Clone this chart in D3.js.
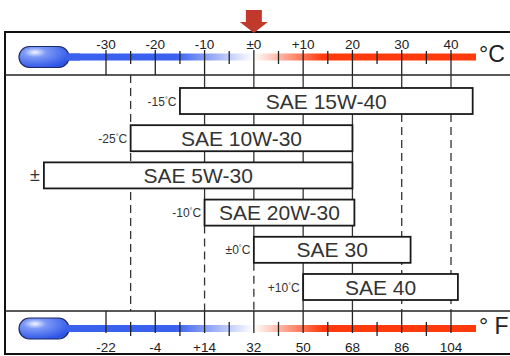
<!DOCTYPE html>
<html>
<head>
<meta charset="utf-8">
<script src="https://cdn.jsdelivr.net/npm/d3@7"></script>
<style>
  body { margin: 0; background: #fff; }
  text { font-family: "Liberation Sans", Arial, sans-serif; }
</style>
</head>
<body>
<div id="chart"></div>
<script>
// oil grades and their usable temperature range in °C
const oils = ["SAE 15W-40", "SAE 10W-30", "SAE 5W-30", "SAE 20W-30", "SAE 30", "SAE 40"];
const lowC = [-15, -25, -42.6, -10, 0, 10];
const highC = [44.4, 20, 20, 20.4, 31.8, 41.4];
const lowLabels = ["-15", "-25", "±", "-10", "±0", "+10"];
const lowHasUnit = [true, true, false, true, true, true];

// scale ticks
const celsiusTicks = [-30, -20, -10, 0, 10, 20, 30, 40];
const celsiusLabels = ["-30", "-20", "-10", "±0", "+10", "20", "30", "40"];
const fahrenheitLabels = ["-22", "-4", "+14", "32", "50", "68", "86", "104"];
const minorTicks = [-25, -15, -5, 5, 15, 25, 35];

// guide lines: solid down to the grade listed, dashed below it
const guides = [-25, -10, 0, 10, 20, 30, 40];
const guideSolidTo = [null, "SAE 20W-30", "SAE 30", "all", "all", "SAE 15W-40", "SAE 15W-40"];

(function () {
  const width = 510, height = 356;
  const frameTop = 32, frameBottom = 354, frameLeft = 5;
  const topSep = 75, bottomSep = 311;

  const svg = d3.select("#chart")
    .append("svg")
    .attr("width", width)
    .attr("height", height);

  const x = d3.scaleLinear().domain([-30, 40]).range([106, 451]);
  const y = d3.scaleBand().domain(oils).range([82.4, 305.6]).paddingInner(0.3).paddingOuter(0.15);

  const defs = svg.append("defs");
  const tube = defs.append("linearGradient")
    .attr("id", "tube")
    .attr("gradientUnits", "userSpaceOnUse")
    .attr("x1", x(-16)).attr("x2", x(14)).attr("y1", 0).attr("y2", 0);
  tube.append("stop").attr("offset", 0).attr("stop-color", "#3a60ee");
  tube.append("stop").attr("offset", 0.53).attr("stop-color", "#ffffff");
  tube.append("stop").attr("offset", 1).attr("stop-color", "#ff3a0c");

  const bulb = defs.append("radialGradient")
    .attr("id", "bulb")
    .attr("cx", "32%").attr("cy", "28%").attr("r", "75%");
  bulb.append("stop").attr("offset", 0).attr("stop-color", "#f2f5ff");
  bulb.append("stop").attr("offset", 0.3).attr("stop-color", "#7d9af7");
  bulb.append("stop").attr("offset", 1).attr("stop-color", "#2f55e6");

  // frame
  svg.append("rect")
    .attr("x", frameLeft).attr("y", frameTop)
    .attr("width", width + 10).attr("height", frameBottom - frameTop)
    .attr("fill", "#fff").attr("stroke", "#111").attr("stroke-width", 2);

  [topSep, bottomSep].forEach(v => {
    svg.append("line")
      .attr("x1", frameLeft).attr("x2", width)
      .attr("y1", v).attr("y2", v)
      .attr("stroke", "#222").attr("stroke-width", 1.4);
  });

  // guide lines behind the bars
  const yTop = topSep, yBot = bottomSep;
  guides.forEach((t, i) => {
    const g = guideSolidTo[i];
    let solidEnd = yTop;
    if (g === "all") solidEnd = yBot;
    else if (g) solidEnd = y(g) + y.bandwidth();
    if (solidEnd > yTop) {
      svg.append("line")
        .attr("x1", x(t)).attr("x2", x(t))
        .attr("y1", yTop).attr("y2", solidEnd)
        .attr("stroke", "#333").attr("stroke-width", 1.3);
    }
    if (solidEnd < yBot) {
      svg.append("line")
        .attr("x1", x(t)).attr("x2", x(t))
        .attr("y1", solidEnd).attr("y2", yBot)
        .attr("stroke", "#333").attr("stroke-width", 1.3)
        .attr("stroke-dasharray", "8,5");
    }
  });

  function thermometer(cy, majorY1, majorY2, minorY1, minorY2, labels, labelY, unit, unitY) {
    const g = svg.append("g");
    g.append("rect")
      .attr("x", 60).attr("y", cy - 3.5)
      .attr("width", 476 - 60).attr("height", 7)
      .attr("fill", "url(#tube)");
    g.append("rect")
      .attr("x", 19).attr("y", cy - 10.5)
      .attr("width", 50).attr("height", 21)
      .attr("rx", 10.5)
      .attr("fill", "url(#bulb)")
      .attr("stroke", "#1c2a66").attr("stroke-width", 1.2);
    g.append("rect")
      .attr("x", 66).attr("y", cy - 3.5)
      .attr("width", 14).attr("height", 7)
      .attr("fill", "#3a60ee");

    g.selectAll(".major")
      .data(celsiusTicks)
      .enter()
      .append("line")
      .attr("x1", d => x(d)).attr("x2", d => x(d))
      .attr("y1", majorY1).attr("y2", majorY2)
      .attr("stroke", "#222").attr("stroke-width", 1.3);

    g.selectAll(".minor")
      .data(minorTicks)
      .enter()
      .append("line")
      .attr("x1", d => x(d)).attr("x2", d => x(d))
      .attr("y1", minorY1).attr("y2", minorY2)
      .attr("stroke", "#222").attr("stroke-width", 1.3);

    g.selectAll(".lbl")
      .data(celsiusTicks)
      .enter()
      .append("text")
      .attr("x", d => x(d))
      .attr("y", labelY)
      .attr("text-anchor", "middle")
      .attr("font-size", 13.5)
      .attr("fill", "#222")
      .text((d, i) => labels[i]);

    g.append("text")
      .attr("x", 479).attr("y", unitY)
      .attr("font-size", 23)
      .attr("fill", "#222")
      .text(unit);
  }

  thermometer(57, 50, topSep, 51, 64, celsiusLabels, 49, "°C", 62);
  thermometer(328.5, bottomSep, 333, 322, 336, fahrenheitLabels, 352, "° F", 334);

  // bars
  const bars = svg.selectAll(".bar")
    .data(oils)
    .enter()
    .append("g");

  bars.append("rect")
    .attr("x", (d, i) => x(lowC[i]))
    .attr("y", d => y(d))
    .attr("width", (d, i) => x(highC[i]) - x(lowC[i]))
    .attr("height", y.bandwidth())
    .attr("fill", "#fff")
    .attr("stroke", "#1a1a1a")
    .attr("stroke-width", 1.8);

  bars.append("text")
    .attr("x", (d, i) => (x(lowC[i]) + x(highC[i])) / 2)
    .attr("y", d => y(d) + y.bandwidth() / 2 + 7.5)
    .attr("text-anchor", "middle")
    .attr("font-size", 21)
    .attr("fill", "#333")
    .text(d => d);

  bars.each(function (d, i) {
    const t = d3.select(this).append("text")
      .attr("x", x(lowC[i]) - 4)
      .attr("y", y(d) + y.bandwidth() / 2 + (lowHasUnit[i] ? 4.5 : 6))
      .attr("text-anchor", "end")
      .attr("fill", "#333")
      .attr("font-size", lowHasUnit[i] ? 12 : 18);
    t.append("tspan").text(lowLabels[i]);
    if (lowHasUnit[i]) {
      t.append("tspan").attr("font-size", 7).attr("dy", -4).text("°");
      t.append("tspan").attr("dy", 4).attr("letter-spacing", -0.5).text("C");
    }
  });

  // red marker at 0 °C
  svg.append("path")
    .attr("d", `M${x(0) - 8},10 H${x(0) + 8} V22 H${x(0) + 14} L${x(0)},33 L${x(0) - 14},22 H${x(0) - 8} Z`)
    .attr("fill", "#c0392b");
})();
</script>
</body>
</html>
